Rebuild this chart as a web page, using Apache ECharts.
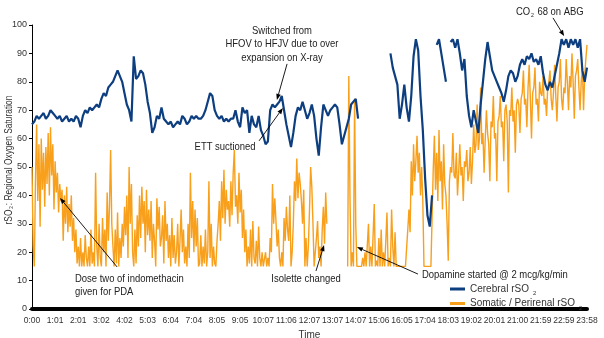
<!DOCTYPE html>
<html><head><meta charset="utf-8">
<script src="https://cdn.jsdelivr.net/npm/echarts@6/dist/echarts.min.js"></script>
<style>html,body{margin:0;padding:0;background:#fff}#c{width:604px;height:338px}</style>
</head><body><div id="c"></div>
<script>
const tickLabels = ['0:00','1:01','2:01','3:02','4:02','5:03','6:04','7:04','8:05','9:05','10:07','11:06','12:07','13:07','14:07','15:06','16:05','17:04','18:03','19:02','20:01','21:00','21:59','22:59','23:58'];

// Cerebral rSO2, one reading per 1/10 of a tick interval (241 readings)
const cerebral = [
65,66,68,67,68,69,67,68,70,69,68,
67,68,66,67,68,66,67,66,68,67,
64,68,70,69,71,70,71,72,71,74,
76,75,78,79,80,82,84,82,80,76,
72,70,66,89,81,82,84,83,79,73,
69,62,64,68,67,71,67,66,65,66,
64,65,66,65,68,67,65,66,68,67,
68,67,67,68,70,73,76,75,70,68,
67,68,66,67,66,67,67,70,66,64,
71,69,70,62,68,65,64,68,63,61,
58,59,70,72,71,72,73,75,70,65,
61,57,62,68,71,70,73,70,67,69,
72,68,60,54,64,72,70,68,70,71,
72,71,65,58,61,64,67,72,73,74,
67,null,null,null,null,null,null,null,null,null,
null,null,null,null,90,85,82,79,67,72,
79,71,66,75,89,95,91,75,63,46,
33,29,40,null,93,95,90,85,80,null,
94,95,92,95,90,84,88,75,68,64,
70,66,62,72,80,88,94,89,84,82,
80,78,76,73,77,82,84,83,80,82,
86,88,86,89,88,90,87,88,86,89,
83,79,77,80,78,82,86,90,95,93,
95,92,95,93,95,92,95,84,80,85
];

// Somatic / Perirenal rSO2, one reading per 1/20 of a tick interval (481 readings)
const somatic = [
50,22,15,45,65,38,58,29,60,42,55,36,57,44,62,40,64,47,58,35,52,
41,48,34,44,38,42,24,40,30,43,27,37,29,40,24,32,20,28,16,22,
15,25,15,20,15,26,18,15,22,15,28,16,20,15,48,22,15,30,18,15,
32,20,28,15,41,24,36,56,30,22,15,28,16,34,15,25,18,30,22,36,
26,40,18,50,30,44,20,15,28,16,33,22,40,25,43,30,38,20,42,26,
35,24,38,18,30,24,15,39,28,36,22,25,33,16,38,24,30,18,26,15,
32,18,26,16,20,30,15,24,35,20,28,16,22,15,30,18,48,25,38,20,
35,22,32,15,16,26,15,22,16,28,15,20,45,18,30,15,22,16,15,24,
30,38,24,45,32,49,30,42,35,38,29,45,33,48,56,36,40,30,48,34,
42,25,35,20,28,15,22,16,28,15,31,18,16,24,15,29,18,15,20,15,
15,20,15,18,15,25,20,44,30,39,31,22,28,18,15,20,15,32,24,36,
28,24,40,15,20,30,45,38,53,39,48,44,38,30,42,15,25,15,22,35,
50,43,30,15,20,25,31,18,22,15,28,36,23,41,30,null,null,null,null,null,
null,null,null,null,null,null,null,null,null,null,null,null,15,82,40,15,20,15,74,30,
15,15,15,15,15,18,15,20,15,15,30,15,22,15,15,37,15,17,15,25,
15,28,15,20,15,24,34,15,18,15,35,22,15,27,15,15,15,15,15,15,
15,15,15,15,28,35,27,52,40,58,45,52,61,48,55,40,50,38,15,15,
15,15,15,15,15,15,49,61,42,55,38,63,45,52,35,58,44,40,30,17,
45,50,48,62,47,46,55,40,48,58,47,50,38,52,50,56,45,48,57,44,
52,65,55,58,72,56,60,78,58,62,48,60,70,62,58,45,66,64,75,60,
62,45,66,68,75,64,66,52,70,72,66,41,70,68,78,66,70,55,72,74,
72,62,74,76,84,72,74,64,78,86,74,60,76,78,85,72,74,66,80,76,
75,82,72,74,68,78,80,84,74,70,76,86,75,66,78,80,88,74,70,78,
76,88,80,70,82,78,90,80,67,82,84,88,78,70,80,85,70,82,88,93
];

// annotations: text anchor (top), arrow from -> to, all in data coordinates
const annotations = [
  {text:'Dose two of indomethacin\ngiven for PDA', pos:[18.6,13.0], align:'left', from:[36.8,14.8], to:[12.1,39.1]},
  {text:'ETT suctioned', pos:[83.5,59.5], align:'center', from:[98.2,59.2], to:[108.5,70.8]},
  {text:'Switched from\nHFOV to HFJV due to over\nexpansion on X-ray', pos:[108.1,100.4], align:'center', from:[110.3,86.3], to:[105.9,73.6]},
  {text:'Isolette changed', pos:[118.5,13.0], align:'center', from:[122.8,13.4], to:[126.3,22.5]},
  {text:'Dopamine started @ 2 mcg/kg/min', pos:[168.6,14.4], align:'left', from:[166.9,12.3], to:[140.5,21.8]},
  {text:'CO{s|2} 68 on ABG', pos:[209.3,107], align:'left', from:[225.3,102.5], to:[230.1,96.1]}
];
const yTitle = 'rSO{s|2}: Regional Oxygen Saturation';

const FONT = "'Liberation Sans Narrow','Liberation Sans',sans-serif";
const BLUE = '#0D3F80', ORANGE = '#F8A01C';
const chart = echarts.init(document.getElementById('c'), null, {renderer:'canvas'});

chart.setOption({
  animation:false,
  grid:{left:32,right:17,top:25,bottom:29,containLabel:false,outerBoundsMode:'none'},
  xAxis:{type:'value',min:0,max:240,interval:10,
    name:'Time', nameLocation:'middle', nameGap:18,
    nameTextStyle:{fontFamily:FONT,fontSize:10,color:'#333'},
    axisLine:{show:true,onZero:false,lineStyle:{color:'#000',width:4}},
    axisTick:{show:false}, splitLine:{show:false},
    axisLabel:{formatter:v=>tickLabels[Math.round(v/10)]||'', fontFamily:FONT, fontSize:8.5, color:'#333', margin:7}},
  yAxis:{type:'value',min:0,max:100,interval:10,
    axisLine:{show:true,lineStyle:{color:'#000',width:1}},
    axisTick:{show:true,length:3,lineStyle:{color:'#000'}},
    splitLine:{show:false},
    axisLabel:{fontFamily:FONT,fontSize:9,color:'#333',margin:5}},
  legend:{left:445, top:279, orient:'vertical', itemWidth:15, itemHeight:3, itemGap:2, icon:'rect',
    textStyle:{fontFamily:FONT,fontSize:10,color:'#333',rich:{s:{fontFamily:FONT,fontSize:6,color:'#333',padding:[9,0,0,4]}}},
    formatter:n=>n.replace(/2$/,'{s|2}'),
    data:['Cerebral rSO2','Somatic / Perirenal rSO2']},
  series:[
    {name:'Cerebral rSO2', type:'line', z:3, data:cerebral.map((v,i)=>[i,v]), showSymbol:false, connectNulls:false,
     lineStyle:{color:BLUE,width:2.2}, itemStyle:{color:BLUE}},
    {name:'Somatic / Perirenal rSO2', type:'line', z:2, data:somatic.map((v,j)=>[j/2,v]), showSymbol:false, connectNulls:false,
     lineStyle:{color:ORANGE,width:1.4}, itemStyle:{color:ORANGE}}
  ]
});

const px = p => chart.convertToPixel({gridIndex:0}, p);
const elems = [];
// y-axis title, rotated, reading bottom to top
const yMid = px([0,50]);
elems.push({type:'text', silent:true, z:100, x:9, y:yMid[1]-7, rotation:Math.PI/2, scaleX:0.8,
  style:{text:yTitle, x:0, y:0, align:'center', verticalAlign:'middle', fontFamily:FONT, fontSize:10.5, fill:'#333',
    rich:{s:{fontFamily:FONT,fontSize:6,fill:'#333',verticalAlign:'bottom',padding:[4,1,0,1]}}}});
annotations.forEach(a=>{
  const t = px(a.pos);
  elems.push({type:'text', silent:true, z:100, x:t[0], y:t[1], scaleX:0.86, style:{text:a.text, x:0, y:0, align:a.align, verticalAlign:'top',
    fontFamily:FONT, fontSize:11, lineHeight:13.5, fill:'#222',
    rich:{s:{fontFamily:FONT,fontSize:6,fill:'#222',verticalAlign:'bottom',padding:[4,1,0,1]}}}});
  const f = px(a.from), e = px(a.to);
  const dx = e[0]-f[0], dy = e[1]-f[1], L = Math.hypot(dx,dy), ux = dx/L, uy = dy/L;
  const hl = 6, hw = 2.3;
  const bx = e[0]-ux*hl, by = e[1]-uy*hl;
  elems.push({type:'line', silent:true, z:100, shape:{x1:f[0],y1:f[1],x2:bx,y2:by}, style:{stroke:'#000',lineWidth:0.9}});
  elems.push({type:'polygon', silent:true, z:100, shape:{points:[[e[0],e[1]],[bx-uy*hw,by+ux*hw],[bx+uy*hw,by-ux*hw]]}, style:{fill:'#000'}});
});
chart.setOption({graphic:{elements:elems}});
</script>
</body></html>
